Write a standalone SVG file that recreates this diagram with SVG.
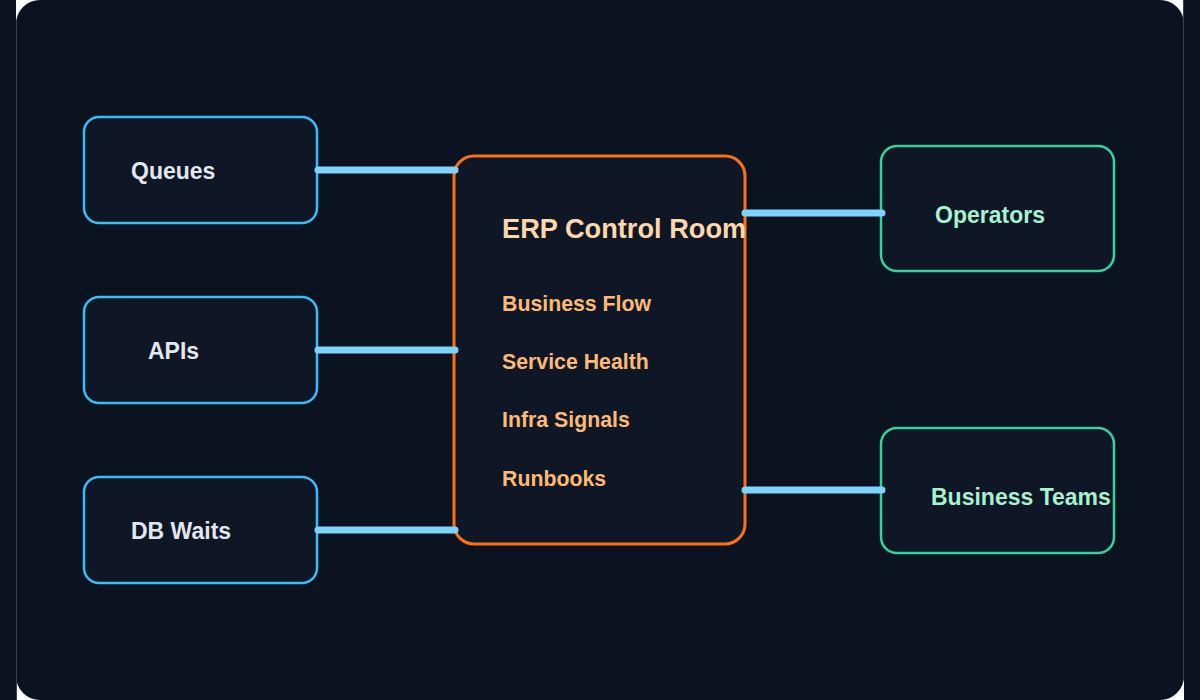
<svg xmlns="http://www.w3.org/2000/svg" width="1200" height="700" viewBox="0 0 1200 700">
  <style>
    .node { fill: #0f1625; stroke-width: 2.5; }
    .src { stroke: #38bdf8; }
    .dst { stroke: #34d399; }
    .hub { stroke: #f97316; stroke-width: 3; }
    .t { font-family: "Liberation Sans", Arial, sans-serif; font-weight: bold; }
    .st { font-size: 23px; fill: #e2e8f0; }
    .dt { font-size: 23px; fill: #a7f3d0; }
    .title { font-size: 27.2px; fill: #fed7aa; }
    .item { font-size: 21.3px; fill: #fdba74; }
    .conn { stroke: #7dd3fc; stroke-width: 7; stroke-linecap: round; fill: none; }
  </style>
  <rect x="0" y="0" width="1200" height="700" fill="#0b1220"/>
  <rect x="16" y="0" width="1168" height="700" fill="#ffffff"/>
  <rect x="16" y="0" width="1168" height="700" rx="24" fill="#0b1220"/>
  <line x1="16.5" y1="20" x2="16.5" y2="700" stroke="#3a4150" stroke-width="1"/>
  <line x1="1183.5" y1="0" x2="1183.5" y2="680" stroke="#3a4150" stroke-width="1"/>

  <g id="queues">
    <rect class="node src" x="84" y="117" width="233" height="106" rx="15"/>
    <text class="t st" x="131" y="179">Queues</text>
  </g>
  <g id="apis">
    <rect class="node src" x="84" y="297" width="233" height="106" rx="15"/>
    <text class="t st" x="148" y="359">APIs</text>
  </g>
  <g id="db-waits">
    <rect class="node src" x="84" y="477" width="233" height="106" rx="15"/>
    <text class="t st" x="131" y="539">DB Waits</text>
  </g>

  <g id="erp-control-room">
    <rect class="node hub" x="454" y="156" width="291" height="388" rx="20"/>
    <text class="t title" x="502" y="238">ERP Control Room</text>
    <text class="t item" x="502" y="311">Business Flow</text>
    <text class="t item" x="502" y="369">Service Health</text>
    <text class="t item" x="502" y="427">Infra Signals</text>
    <text class="t item" x="502" y="486">Runbooks</text>
  </g>

  <g id="operators">
    <rect class="node dst" x="881" y="146" width="233" height="125" rx="16"/>
    <text class="t dt" x="935" y="223">Operators</text>
  </g>
  <g id="business-teams">
    <rect class="node dst" x="881" y="428" width="233" height="125" rx="16"/>
    <text class="t dt" x="931" y="505">Business Teams</text>
  </g>

  <g id="connectors">
    <line class="conn" x1="318" y1="170" x2="455" y2="170"/>
    <line class="conn" x1="318" y1="350" x2="455" y2="350"/>
    <line class="conn" x1="318" y1="530" x2="455" y2="530"/>
    <line class="conn" x1="745" y1="213" x2="882" y2="213"/>
    <line class="conn" x1="745" y1="490" x2="882" y2="490"/>
  </g>
</svg>
